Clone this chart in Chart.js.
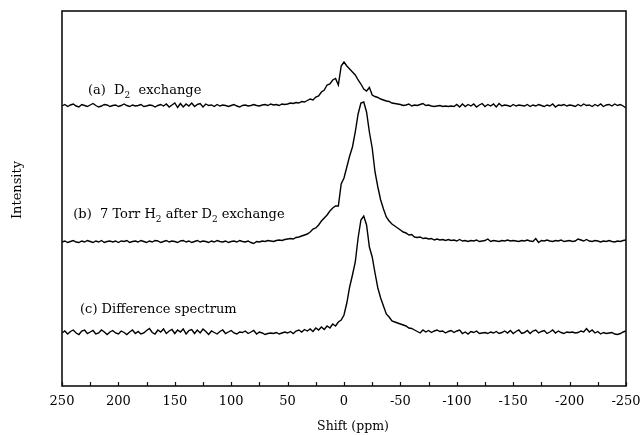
<!DOCTYPE html>
<html>
<head>
<meta charset="utf-8">
<script src="https://cdn.jsdelivr.net/npm/chart.js@4.4.1/dist/chart.umd.min.js"></script>
<style>
  html, body { margin: 0; padding: 0; background: #fff; }
  #wrap { width: 643px; height: 435px; position: relative; }
</style>
</head>
<body>
<div id="wrap"><canvas id="chart"></canvas></div>
<script>
// shift axis: 250 -> -250 ppm, one point every 2.5 ppm
const shiftStart = 250;
const shiftStep = 2.5;
const xTicks = [250, 200, 150, 100, 50, 0, -50, -100, -150, -200, -250];

// intensities relative to each trace's own baseline
const traceA = [
  0, 1.5, -0.5, 1, 2, 0, -1, 1.5, 0.5, -0.5, 1, 2.5, 0.5, -1, 0, 1.5, 1, -0.5, 0.5, 1,
  -0.5, 0.5, 2, 0.5, -0.5, 1, 0, 0.5, 1.5, -0.5, 0, 1, 0.5, -1, 0.5, 1.5, 0, 2, -1, 1,
  3, -1.5, 2.5, -1, 2, 0, 3, -0.5, 1.5, 2.5, -1, 2, 0.5, 1, -0.5, 1.5, 0, 1, 0.5, -0.5,
  0.5, 1.5, 0, -1, 0.5, 1, 0, 0.5, 1.5, 0.5, 0, 1, 1.5, 0.5, 2, 1, 1.5, 0.5, 2, 1.5,
  2, 3, 2.5, 3.5, 3, 4.5, 4, 5.5, 7, 6, 9, 10, 14, 16, 21, 22, 26, 27.5, 21, 40,
  44, 40, 37, 34, 31, 26, 22, 17, 15, 18.5, 11, 9.5, 8.5, 7, 6, 5, 4.5, 3, 2.5, 2,
  1.5, 0.5, 1, 2, 0, 1, 0.5, 1.5, 2.5, 0.5, 1, 0, -0.5, 0, 0.5, -0.5, 0, -0.5, 0, -0.5,
  1.5, -1, 2, -0.5, 1.5, 0, 2, -1, 1, 2.5, -0.5, 1.5, 0, 2, -1, 2.5, 0, 1, 0.5, -0.5,
  1.5, 0, 1, 0.5, 0, 1.5, -0.5, 1, 0, 1.5, 0.5, -0.5, 1, 0, 2, -1, 1, 0.5, 1.5, 0,
  1, 0.5, -0.5, 1.5, 0, 2, 0.5, 1, -0.5, 1.5, 0, 2, -0.5, 1, 1.5, 0, 2, 0.5, 1.5, 0,
  -2
];
const traceB = [
  0, 1, -0.5, 0.5, 1.5, 0, -0.5, 1, 0, 1.5, 0.5, -0.5, 1, 0, 1.5, -0.5, 0.5, 1, 0, 1,
  -0.5, 1, 0.5, 1.5, -0.5, 0.5, 1, 0, 1.5, 0.5, -0.5, 1, 0, 1.5, 1, -0.5, 0.5, 1.5, 0, 1,
  0.5, -0.5, 1, 1.5, 0, 1, -0.5, 0.5, 1.5, 0, 1, 0.5, -0.5, 1, 0, 1.5, 0.5, 0, 1, -0.5,
  0.5, 1, 0, 1.5, 0.5, 0, 1, -0.5, -1.5, 0.5, 0, 1, 0.5, 1.5, 1, 0.5, 1.5, 2, 1.5, 2.5,
  3, 3.5, 3, 4.5, 5, 6, 7, 8, 10, 13, 14, 17, 21, 24, 27, 31, 34, 36, 36, 58,
  64, 75, 86, 95, 110, 128, 139, 140, 130, 110, 94, 70, 55, 42, 33, 25, 21, 18, 16, 14,
  12, 10, 9, 7, 7.5, 5, 4.5, 5, 3.5, 4, 3, 3.5, 2, 3, 2, 2.5, 1.5, 2.5, 1.5, 2,
  1, 2.5, 1, 1.5, 0.5, 1.5, 1, 2, 0.5, 1, 1.5, 3, 0.5, 1.5, 1, 0.5, 1.5, 1, 2, 1,
  1.5, 1, 0.5, 1.5, 1, 2, 1, 0.5, 3.5, -0.5, 1.5, 1, 2, 1, 0.5, 1.5, 1, 2, 0.5, 1,
  1.5, 0.5, 1, 3, 2, 1, 2.5, 1, 0.5, 1.5, 1, 0, 1, 0.5, 1.5, 0.5, 0, 1, 0.5, 1.5,
  2
];
const traceC = [
  0, 2, -1, 1.5, 3, 0, -1.5, 2, 3, -0.5, 1, 2.5, -1, 0, 3, 1, -1.5, 1, 2.5, 0,
  -1, 2, 0.5, -1.5, 1, 3, -0.5, 1.5, -1, 0, 2.5, 4.5, 0.5, -1, 3, 1, 4, -0.5, 2, 3.5,
  -0.5, 3, 1, 4, -1, 2.5, 3.5, -0.5, 3, 0, 4, 1.5, -1.5, 2, 0.5, -1, 1.5, 3, -0.5, 1,
  2.5, 0, -1, 1, 0.5, 2, -0.5, 1, 2.5, -1, 1, 0, -1.5, -0.5, 0, -0.5, 0.5, -1, 0, 1,
  0, 1.5, -0.5, 2, 3, 1, 3.5, 2, 4, 1.5, 5, 3, 6, 3.5, 7, 5, 9, 7, 11, 13,
  18, 30, 46, 58, 71, 95, 113, 117, 108, 86, 76, 60, 45, 35, 27, 19, 16, 12, 11, 10,
  9, 8, 7, 5, 4.5, 3, 1.5, 0, 3, 1, 2.5, 0.5, 2, 3, 1.5, 2, 0, 1.5, 2.5, 0.5,
  2, 3, -0.5, 1, -1, 1.5, 0.5, 2, -0.5, 0, 0.5, -0.5, 1, 0, 1.5, -0.5, 0.5, 2, 0, 2.5,
  -0.5, 1.5, 3, -0.5, 0.5, 2.5, -0.5, 2, 3, 0, 1.5, 2.5, -0.5, 1, 3, 0, 2, 0.5, -0.5, 1,
  0.5, 1, 0, 0.5, 2, 1, 4.5, 1, 3, 0, 1.5, -1, 0.5, -0.5, 0, 0.5, -1, -1.5, -0.5, 1,
  2
];

// vertical stacking of the three spectra
const traceOffsets = [280, 144, 53];

// labels: text pieces, subscripts flagged; anchored at (ppm, intensity)
const traceLabels = [
  { ppm: 227, y: 295, parts: [['(a)  D'], ['2', 1], ['  exchange']] },
  { ppm: 240, y: 171, parts: [['(b)  7 Torr H'], ['2', 1], [' after D'], ['2', 1], [' exchange']] },
  { ppm: 234, y: 76, parts: [['(c) Difference spectrum']] }
];
const xTitle = 'Shift (ppm)';
const yTitle = 'Intensity';

const SERIF = '"DejaVu Serif", "Liberation Serif", serif';

function toPoints(vals, off) {
  return vals.map((v, i) => ({ x: shiftStart - shiftStep * i, y: v + off }));
}

const frameAndLabels = {
  id: 'frameAndLabels',
  afterDatasetsDraw(chart) {
    const { ctx, chartArea: a, scales: { x, y } } = chart;
    ctx.save();
    // frame
    ctx.strokeStyle = '#111';
    ctx.lineWidth = 1.6;
    ctx.strokeRect(a.left, a.top, a.right - a.left, a.bottom - a.top);
    // inward ticks every 25 ppm
    ctx.lineWidth = 1.2;
    for (let v = -250; v <= 250; v += 25) {
      const px = Math.round(x.getPixelForValue(v)) + 0.5;
      ctx.beginPath();
      ctx.moveTo(px, a.bottom);
      ctx.lineTo(px, a.bottom - 4);
      ctx.stroke();
    }
    // trace labels
    ctx.fillStyle = '#000';
    ctx.textBaseline = 'middle';
    ctx.textAlign = 'left';
    traceLabels.forEach(lab => {
      let px = x.getPixelForValue(lab.ppm);
      const py = y.getPixelForValue(lab.y);
      lab.parts.forEach(([t, sub]) => {
        ctx.font = sub ? '9px ' + SERIF : '13px ' + SERIF;
        ctx.fillText(t, px, sub ? py + 5 : py);
        px += ctx.measureText(t).width;
      });
    });
    // axis titles, both sit a little off centre in the original
    ctx.font = '12.5px ' + SERIF;
    ctx.textAlign = 'center';
    ctx.fillText(xTitle, x.getPixelForValue(-8), 427);
    ctx.translate(18, y.getPixelForValue(196));
    ctx.rotate(-Math.PI / 2);
    ctx.font = '13px ' + SERIF;
    ctx.fillText(yTitle, 0, 0);
    ctx.restore();
  }
};

const lineStyle = { borderColor: '#000', borderWidth: 1.4, pointRadius: 0, tension: 0, fill: false };

new Chart(document.getElementById('chart'), {
  type: 'line',
  data: {
    datasets: [
      { label: '(a)', data: toPoints(traceA, traceOffsets[0]), ...lineStyle },
      { label: '(b)', data: toPoints(traceB, traceOffsets[1]), ...lineStyle },
      { label: '(c)', data: toPoints(traceC, traceOffsets[2]), ...lineStyle }
    ]
  },
  options: {
    responsive: true,
    maintainAspectRatio: false,
    animation: false,
    layout: { padding: { top: 11, right: 17, left: 0, bottom: 0 } },
    plugins: { legend: { display: false }, tooltip: { enabled: false } },
    scales: {
      x: {
        type: 'linear',
        min: -250,
        max: 250,
        reverse: true,
        afterBuildTicks: s => { s.ticks = xTicks.map(v => ({ value: v })); },
        afterFit: s => { s.height = 49; s.paddingLeft = 0; s.paddingRight = 0; },
        grid: { display: false, drawTicks: false },
        border: { display: false },
        ticks: { color: '#000', padding: 8, maxRotation: 0, font: { family: SERIF, size: 13 },
                 callback: v => String(v) },
        title: { display: false }
      },
      y: {
        min: 0,
        max: 375,
        afterFit: s => { s.width = 62; },
        grid: { display: false, drawTicks: false },
        border: { display: false },
        ticks: { display: false },
        title: { display: false }
      }
    }
  },
  plugins: [frameAndLabels]
});
</script>
</body>
</html>
